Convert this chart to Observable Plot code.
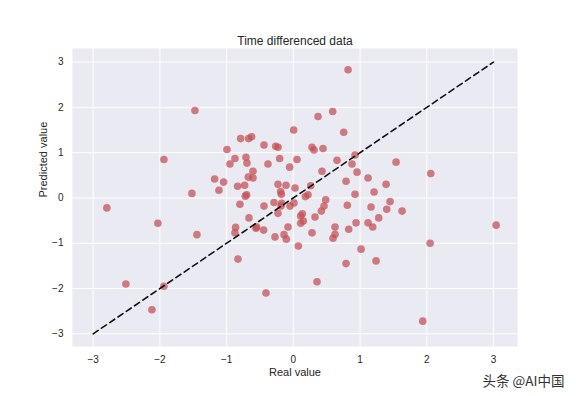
<!DOCTYPE html>
<html>
<head>
<meta charset="utf-8">
<script src="https://cdn.jsdelivr.net/npm/d3@7"></script>
<script src="https://cdn.jsdelivr.net/npm/@observablehq/plot@0.6"></script>
<style>
  html, body { margin: 0; padding: 0; background: #fff; }
  #chart svg { display: block; }
</style>
</head>
<body>
<div id="chart"></div>
<script>
const title = "Time differenced data";
const xLabel = "Real value";
const yLabel = "Predicted value";
const watermark = "头条 @AI中国";
const ticks = [-3, -2, -1, 0, 1, 2, 3];
const lineX = [-3, 3];
const lineY = [-3, 3];

const realValues = [
  -1.475, -1.94, -0.79, -0.67, -0.625, -0.995, -0.44, -0.265, -0.23, 0.005,
  -0.875, -0.71, -0.95, -0.695, -0.38, -0.205, 0.055, -0.055, -0.605, -0.675,
  -0.605, -1.18, -1.045, -1.115, -0.835, -0.73, -0.23, -0.11, 0.025, -0.19,
  -0.18, -1.52, -0.72, -0.70, 0.82, 0.59, 0.37, 0.755, 0.28, 0.31,
  0.445, 0.655, 0.925, 0.88, 1.54, 0.43, 0.955, 2.06, 1.12, 0.79,
  1.39, 0.26, 1.21, 0.925, 0.18, 0.22, 0.485, 1.45, -2.795, -2.03,
  -1.445, -0.80, -0.665, -0.55, -0.56, -0.445, -0.865, -0.875, -0.44, -0.29,
  -0.23, -0.185, -0.175, -0.05, 0.01, -0.08, -0.275, -0.14, -0.105, 0.075,
  -0.83, -2.51, -1.94, -2.12, -0.41, 0.46, 0.42, 1.40, 1.63, 0.81,
  1.165, 1.28, 1.12, 1.19, 0.94, 0.83, 0.625, 0.625, 0.595, 0.325,
  0.11, 0.135, 0.15, 0.11, 0.28, 1.015, 0.79, 1.24, 0.355, 2.05,
  3.04, 1.94
];
const predictedValues = [
  1.93, 0.85, 1.31, 1.31, 1.35, 1.07, 1.17, 1.14, 1.12, 1.50,
  0.87, 0.90, 0.75, 0.77, 0.75, 0.87, 0.85, 0.68, 0.59, 0.46,
  0.44, 0.42, 0.35, 0.17, 0.26, 0.28, 0.30, 0.28, 0.22, 0.14,
  0.08, 0.10, 0.04, 0.07, 2.83, 1.91, 1.80, 1.45, 1.12, 1.06,
  1.09, 0.83, 0.95, 0.75, 0.79, 0.59, 0.57, 0.54, 0.44, 0.37,
  0.30, 0.27, 0.13, 0.08, 0.03, 0.07, -0.04, -0.08, -0.22, -0.56,
  -0.81, -0.14, -0.44, -0.64, -0.67, -0.71, -0.65, -0.77, -0.18, -0.10,
  -0.34, -0.18, -0.12, -0.18, -0.11, -0.64, -0.86, -0.81, -0.91, -1.06,
  -1.35, -1.90, -1.95, -2.47, -2.10, -0.18, -0.29, -0.25, -0.29, -0.16,
  -0.20, -0.44, -0.55, -0.64, -0.55, -0.69, -0.64, -0.80, -0.89, -0.42,
  -0.40, -0.35, -0.51, -0.56, -0.77, -1.13, -1.45, -1.39, -1.85, -1.00,
  -0.60, -2.72
];

const points = realValues.map((x, i) => ({x, y: predictedValues[i]}));
const diag = lineX.map((x, i) => ({x, y: lineY[i]}));

const chart = Plot.plot({
  width: 576,
  height: 396,
  marginLeft: 72,
  marginRight: 59,
  marginTop: 48,
  marginBottom: 50,
  style: {fontFamily: "'Liberation Sans', Arial, sans-serif", fontSize: "10px", color: "#262626", background: "#fff"},
  x: {domain: [-3.31, 3.36]},
  y: {domain: [-3.28, 3.30]},
  marks: [
    Plot.frame({fill: "#EAEAF2", stroke: null}),
    Plot.gridX(ticks, {stroke: "#fff", strokeOpacity: 1, strokeWidth: 1}),
    Plot.gridY(ticks, {stroke: "#fff", strokeOpacity: 1, strokeWidth: 1}),
    Plot.axisX(ticks, {tickSize: 0, tickPadding: 9, label: null, fontSize: 10}),
    Plot.axisY(ticks, {tickSize: 0, tickPadding: 9, label: null, fontSize: 10}),
    Plot.dot(points, {x: "x", y: "y", r: 3.8, fill: "#c44e52", fillOpacity: 0.72, stroke: null}),
    Plot.line(diag, {x: "x", y: "y", stroke: "#111", strokeWidth: 1.6, strokeDasharray: "6,4"}),
    Plot.text([title], {frameAnchor: "top", lineAnchor: "bottom", dy: -4, fontSize: 12, fill: "#262626"}),
    Plot.text([xLabel], {frameAnchor: "bottom", lineAnchor: "middle", dy: 26, fontSize: 11, fill: "#262626"}),
    Plot.text([yLabel], {frameAnchor: "left", lineAnchor: "middle", rotate: -90, dx: -29, fontSize: 11, fill: "#262626"}),
    Plot.text([watermark], {frameAnchor: "bottom-right", textAnchor: "end", lineAnchor: "middle", dx: 47, dy: 35, fontSize: 13.5, fill: "#333", fontFamily: "'Noto Sans CJK SC', sans-serif"})
  ]
});
document.getElementById("chart").appendChild(chart);
</script>
</body>
</html>
